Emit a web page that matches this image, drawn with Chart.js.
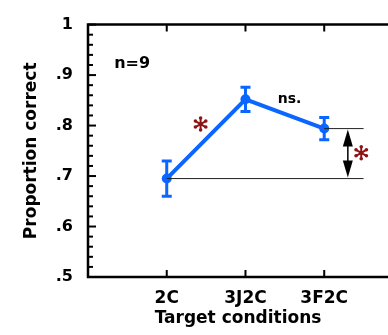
<!DOCTYPE html>
<html>
<head>
<meta charset="UTF-8">
<script src="https://cdn.jsdelivr.net/npm/chart.js"></script>
<style>
  html, body { margin: 0; padding: 0; background: #fff; }
  #wrap { width: 388px; height: 335px; }
</style>
</head>
<body>
<div id="wrap"><canvas id="myChart" width="388" height="335"></canvas></div>
<script>
    const categories = ['2C', '3J2C', '3F2C'];
    const catPos = [1, 2, 3];
    const meanCorrect = [0.695, 0.852, 0.794];
    const errCorrect = [0.035, 0.024, 0.022];
    const yTickValues = [0.5, 0.6, 0.7, 0.8, 0.9, 1.0];
    const yTickLabels = ['.5', '.6', '.7', '.8', '.9', '1'];

    const BLUE = '#0a66ff';
    const RED = '#8c1414';
    const FONT = 'DejaVu Sans';

    function asterisk(ctx, cx, cy, r) {
        ctx.save();
        ctx.strokeStyle = RED;
        ctx.fillStyle = RED;
        ctx.lineWidth = 2;
        for (let k = 0; k < 3; k++) {
            const a = Math.PI / 2 + k * Math.PI / 3;
            ctx.beginPath();
            ctx.moveTo(cx - Math.cos(a) * r * 0.8, cy - Math.sin(a) * r * 0.8);
            ctx.lineTo(cx + Math.cos(a) * r * 0.8, cy + Math.sin(a) * r * 0.8);
            ctx.stroke();
        }
        for (let k = 0; k < 6; k++) {
            const a = Math.PI / 2 + k * Math.PI / 3;
            ctx.beginPath();
            ctx.arc(cx + Math.cos(a) * r * 0.8, cy + Math.sin(a) * r * 0.8, 1.8, 0, Math.PI * 2);
            ctx.fill();
        }
        ctx.beginPath();
        ctx.arc(cx, cy, 2, 0, Math.PI * 2);
        ctx.fill();
        ctx.restore();
    }

    function arrowHead(ctx, x, tipY, baseY, halfW) {
        ctx.beginPath();
        ctx.moveTo(x, tipY);
        ctx.lineTo(x - halfW, baseY);
        ctx.lineTo(x + halfW, baseY);
        ctx.closePath();
        ctx.fill();
    }

    const errorBars = {
        id: 'errorBars',
        beforeDatasetsDraw(chart) {
            const ctx = chart.ctx;
            const xs = chart.scales.x, ys = chart.scales.y;
            ctx.save();
            ctx.strokeStyle = BLUE;
            ctx.lineWidth = 3;
            for (let i = 0; i < meanCorrect.length; i++) {
                const px = xs.getPixelForValue(catPos[i]);
                const top = ys.getPixelForValue(meanCorrect[i] + errCorrect[i]);
                const bot = ys.getPixelForValue(meanCorrect[i] - errCorrect[i]);
                ctx.beginPath();
                ctx.moveTo(px, top); ctx.lineTo(px, bot);
                ctx.moveTo(px - 5, top); ctx.lineTo(px + 5, top);
                ctx.moveTo(px - 5, bot); ctx.lineTo(px + 5, bot);
                ctx.stroke();
            }
            ctx.restore();
        }
    };

    const frame = {
        id: 'frame',
        afterDraw(chart) {
            const ctx = chart.ctx;
            const a = chart.chartArea;
            const xs = chart.scales.x, ys = chart.scales.y;
            ctx.save();
            ctx.strokeStyle = '#000';
            ctx.lineCap = 'butt';
            // axes lines (no right border, the figure is cut there)
            ctx.lineWidth = 2.5;
            ctx.beginPath();
            ctx.moveTo(a.right, a.top); ctx.lineTo(a.left, a.top);
            ctx.lineTo(a.left, a.bottom); ctx.lineTo(a.right, a.bottom);
            ctx.stroke();
            // y ticks, major and minor, pointing inward
            ctx.lineWidth = 2;
            for (let v = 50; v <= 100; v += 2) {
                const py = ys.getPixelForValue(v / 100);
                const len = (v % 10 === 0) ? 8 : 5;
                ctx.beginPath();
                ctx.moveTo(a.left, py); ctx.lineTo(a.left + len, py);
                ctx.stroke();
            }
            // x ticks on bottom and top
            for (const c of catPos) {
                const px = xs.getPixelForValue(c);
                ctx.beginPath();
                ctx.moveTo(px, a.bottom); ctx.lineTo(px, a.bottom - 7);
                ctx.moveTo(px, a.top); ctx.lineTo(px, a.top + 7);
                ctx.stroke();
            }

            // comparison lines
            const yLow = ys.getPixelForValue(meanCorrect[0]);
            const yHigh = ys.getPixelForValue(meanCorrect[2]);
            const xEnd = xs.getPixelForValue(3.5);
            ctx.lineWidth = 1;
            ctx.strokeStyle = '#222';
            ctx.beginPath();
            ctx.moveTo(xs.getPixelForValue(1), yLow); ctx.lineTo(xEnd, yLow);
            ctx.moveTo(xs.getPixelForValue(3), yHigh); ctx.lineTo(xEnd, yHigh);
            ctx.stroke();

            // double arrow
            const ax = xs.getPixelForValue(3.3);
            ctx.strokeStyle = '#000';
            ctx.fillStyle = '#000';
            ctx.lineWidth = 1.5;
            ctx.beginPath();
            ctx.moveTo(ax, yHigh + 10); ctx.lineTo(ax, yLow - 10);
            ctx.stroke();
            arrowHead(ctx, ax, yHigh + 1, yHigh + 18, 5);
            arrowHead(ctx, ax, yLow - 1, yLow - 18, 5);

            // significance marks
            asterisk(ctx, xs.getPixelForValue(1.43), ys.getPixelForValue(0.803), 7.5);
            asterisk(ctx, xs.getPixelForValue(3.47), ys.getPixelForValue(0.746), 7.5);

            ctx.fillStyle = '#000';
            ctx.textAlign = 'center';
            ctx.textBaseline = 'middle';
            ctx.font = 'bold 14px "' + FONT + '"';
            ctx.fillText('ns.', xs.getPixelForValue(2.56), ys.getPixelForValue(0.852));
            ctx.font = 'bold 16px "' + FONT + '"';
            ctx.fillText('n=9', xs.getPixelForValue(0.56), ys.getPixelForValue(0.922));
            ctx.restore();
        }
    };

    const data = {
        datasets: [{
            data: catPos.map((c, i) => ({ x: c, y: meanCorrect[i] })),
            borderColor: BLUE,
            backgroundColor: BLUE,
            borderWidth: 4,
            pointRadius: 5,
            pointBorderWidth: 0,
            tension: 0,
        }]
    };

    const config = {
        type: 'line',
        data: data,
        options: {
            responsive: false,
            animation: false,
            events: [],
            layout: { autoPadding: false, padding: { top: 24, right: 0, left: 0, bottom: 0 } },
            plugins: { legend: { display: false }, tooltip: { enabled: false } },
            scales: {
                x: {
                    type: 'linear',
                    min: 0,
                    max: 3.81,
                    grid: { display: false, drawTicks: false },
                    border: { display: false },
                    afterBuildTicks: s => { s.ticks = catPos.map(v => ({ value: v })); },
                    afterFit: s => { s.height = 58; },
                    ticks: {
                        padding: 11,
                        color: '#000',
                        maxRotation: 0,
                        autoSkip: false,
                        font: { family: FONT, weight: 'bold', size: 17 },
                        callback: (v, i) => categories[i]
                    },
                    title: {
                        display: true,
                        text: 'Target conditions',
                        color: '#000',
                        padding: { top: 0, bottom: 6 },
                        font: { family: FONT, weight: 'bold', size: 17 }
                    }
                },
                y: {
                    min: 0.5,
                    max: 1,
                    grid: { display: false, drawTicks: false },
                    border: { display: false },
                    afterBuildTicks: s => { s.ticks = yTickValues.map(v => ({ value: v })); },
                    afterFit: s => { s.width = 88; },
                    ticks: {
                        padding: 15,
                        color: '#000',
                        font: { family: FONT, weight: 'bold', size: 16 },
                        callback: (v, i) => yTickLabels[i]
                    },
                    title: {
                        display: true,
                        text: 'Proportion correct',
                        color: '#000',
                        padding: { top: 21, bottom: 0 },
                        font: { family: FONT, weight: 'bold', size: 17 }
                    }
                }
            }
        },
        plugins: [errorBars, frame]
    };

    const myChart = new Chart(document.getElementById('myChart'), config);
</script>
</body>
</html>
